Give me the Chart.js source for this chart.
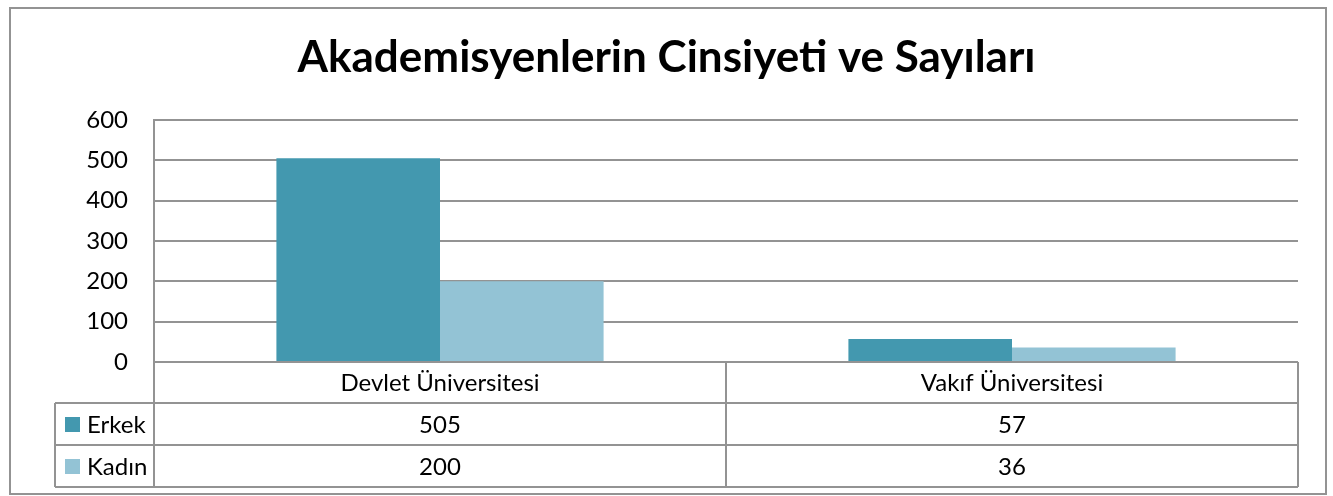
<!DOCTYPE html>
<html>
<head>
<meta charset="utf-8">
<script src="https://cdn.jsdelivr.net/npm/chart.js@4/dist/chart.umd.min.js"></script>
<style>
html,body{margin:0;padding:0;background:#fff;}
#wrap{width:1333px;height:496px;position:relative;}
</style>
</head>
<body>
<div id="wrap"><canvas id="c" width="1333" height="496"></canvas></div>
<script>
const titleText = "Akademisyenlerin Cinsiyeti ve Sayıları";
const categories = ["Devlet Üniversitesi", "Vakıf Üniversitesi"];
const seriesNames = ["Erkek", "Kadın"];
const erkek = [505, 57];
const kadin = [200, 36];
const yTicks = [0, 100, 200, 300, 400, 500, 600];

const colors = ["#4398AF", "#93C3D5"];
const lineColor = "#939393";
const FONT = "Lato";

const tablePlugin = {
  id: "dataTable",
  afterDraw(chart) {
    const ctx = chart.ctx;
    const ca = chart.chartArea;
    const L = ca.left, R = ca.right, B = ca.bottom;
    const mid = (L + R) / 2;
    const rows = [B, B + 41, B + 83, B + 125];
    const legL = 55;
    ctx.save();
    ctx.strokeStyle = lineColor;
    ctx.lineWidth = 2;
    ctx.beginPath();
    ctx.moveTo(L, rows[0]); ctx.lineTo(R, rows[0]);
    for (let i = 1; i < rows.length; i++) { ctx.moveTo(legL, rows[i]); ctx.lineTo(R, rows[i]); }
    ctx.moveTo(L, ca.top); ctx.lineTo(L, rows[3]);
    ctx.moveTo(mid, rows[0]); ctx.lineTo(mid, rows[3]);
    ctx.moveTo(R, rows[0]); ctx.lineTo(R, rows[3]);
    ctx.moveTo(legL, rows[1]); ctx.lineTo(legL, rows[3]);
    ctx.stroke();
    // outer border
    ctx.strokeRect(10, 8, 1316, 486);

    ctx.fillStyle = "#000";
    ctx.font = "24px " + FONT;
    ctx.textAlign = "center";
    ctx.textBaseline = "middle";
    const xs = chart.scales.x;
    const centers = categories.map((c, i) => xs.getPixelForValue(i));
    categories.forEach((c, i) => ctx.fillText(c, centers[i], (rows[0] + rows[1]) / 2 + 1));
    const data = [erkek, kadin];
    data.forEach((arr, r) => {
      const yc = (rows[r + 1] + rows[r + 2]) / 2 + 1;
      arr.forEach((v, i) => ctx.fillText(String(v), centers[i], yc));
      ctx.fillStyle = colors[r];
      ctx.fillRect(65, yc - 8, 15, 15);
      ctx.fillStyle = "#000";
      ctx.textAlign = "left";
      ctx.fillText(seriesNames[r], 87, yc);
      ctx.textAlign = "center";
    });
    ctx.restore();
  }
};

new Chart(document.getElementById("c"), {
  type: "bar",
  data: {
    labels: categories,
    datasets: [
      { label: seriesNames[0], data: erkek, backgroundColor: colors[0], borderWidth: 0, categoryPercentage: 0.572, barPercentage: 1 },
      { label: seriesNames[1], data: kadin, backgroundColor: colors[1], borderWidth: 0, categoryPercentage: 0.572, barPercentage: 1 }
    ]
  },
  options: {
    responsive: false,
    animation: false,
    events: [],
    layout: { padding: { left: 35, right: 35, bottom: 134, top: 0 } },
    plugins: {
      legend: { display: false },
      tooltip: { enabled: false },
      title: {
        display: true,
        text: titleText,
        color: "#000",
        font: { family: FONT, size: 44, weight: "bold", lineHeight: 1.2 },
        padding: { top: 31, bottom: 36.2 }
      }
    },
    scales: {
      x: { display: false },
      y: {
        min: 0, max: 600,
        afterBuildTicks(scale) { scale.ticks = yTicks.map(v => ({ value: v })); },
        afterFit(scale) { scale.width = 119; },
        ticks: { color: "#000", font: { family: FONT, size: 24 }, padding: 26 },
        grid: { color: lineColor, lineWidth: 2, drawTicks: false },
        border: { display: true, color: lineColor, width: 2 }
      }
    }
  },
  plugins: [tablePlugin]
});
</script>
</body>
</html>
